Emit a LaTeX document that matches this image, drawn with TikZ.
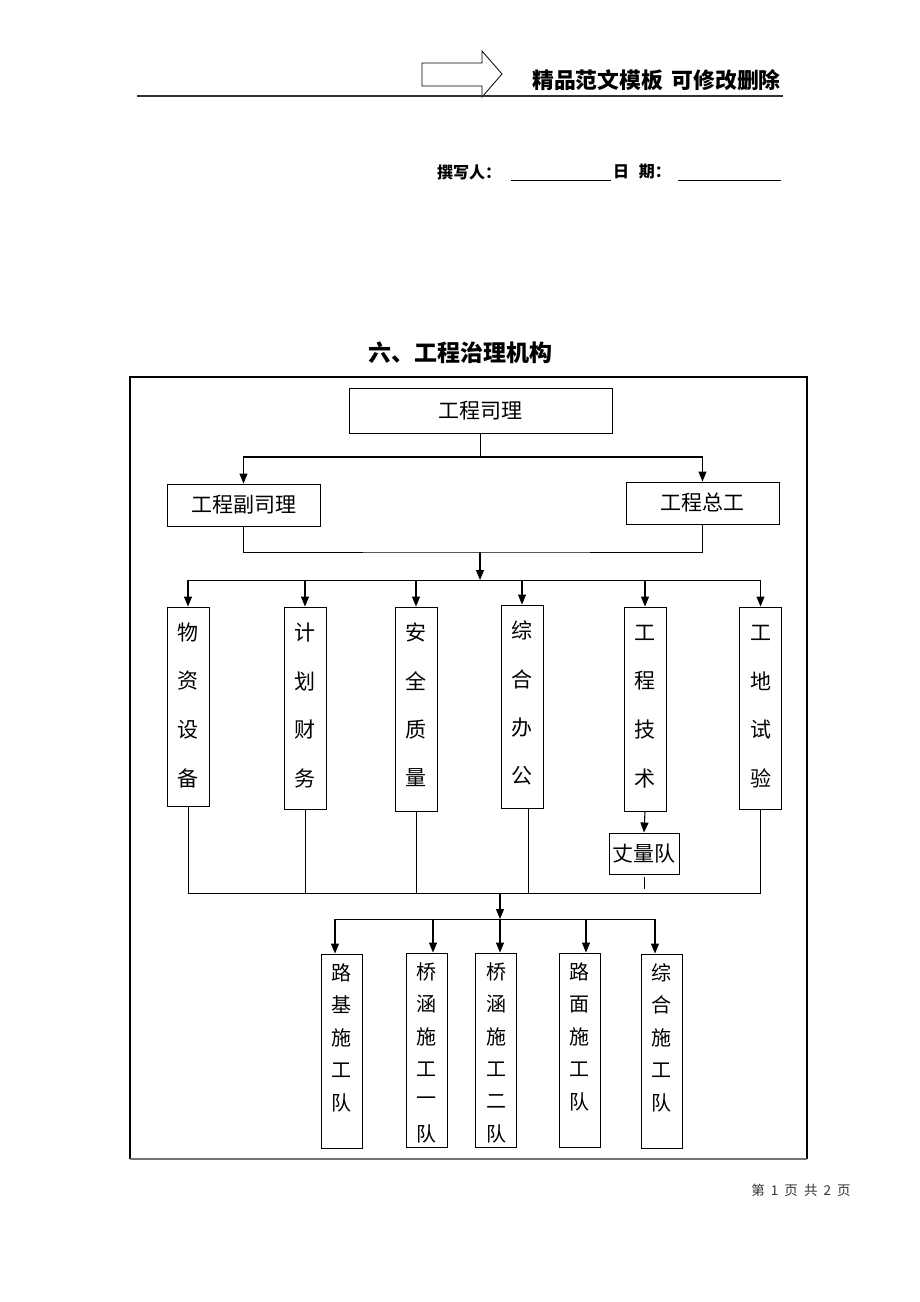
\documentclass[tikz,border=0pt]{standalone}
\usepackage{fontspec}
\newfontfamily\cjk{Noto Sans CJK SC}
\usetikzlibrary{arrows.meta,positioning}

\tikzset{
  box/.style={draw,line width=0.9pt,inner sep=0pt,font=\cjk\fontsize{21}{24}\selectfont},
  vbox/.style={box,minimum width=42pt},
  chr/.style={inner sep=0pt,font=\cjk\fontsize{21}{24}\selectfont},
  arr/.style={-{Triangle[length=10pt,width=8pt]},line width=1.1pt},
  link/.style={line width=1pt},
}

\begin{document}
\begin{tikzpicture}[x=1pt,y=-1pt]
\useasboundingbox (0,0) rectangle (920,1302);
% page head
\draw[line width=0.8pt] (422,63)--(482,63)--(482,51)--(502,74)--(482,97)--(482,86)--(422,86)--cycle;
\draw[line width=1.2pt,black!80] (137,96)--(783,96);
\node[anchor=east,inner sep=0pt,font=\cjk\bfseries\fontsize{21.8}{24}\selectfont] (head) at (781,80) {精品范文模板\hspace{0.4em}可修改删除};
\node[anchor=west,inner sep=0pt,font=\cjk\bfseries\fontsize{16}{18}\selectfont] (author) at (437,172) {撰写人：};
\draw[line width=0.9pt] (511,180)--(611,180);
\node[anchor=west,inner sep=0pt,font=\cjk\bfseries\fontsize{16}{18}\selectfont] (date) at (613,172) {日\hspace{0.6em}期：};
\draw[line width=0.9pt] (678,180)--(781,180);
\node[font=\cjk\bfseries\fontsize{23}{26}\selectfont] (title) at (460,353) {六、工程治理机构};
% frame
\draw[line width=1.8pt] (130,1159)--(130,377)--(807,377)--(807,1159);
\draw[line width=1.3pt,black!55] (130,1159)--(807,1159);

% boxes
\node[box,minimum width=263pt,minimum height=45pt] (boss) at (480.5,410.5) {工程司理};
\node[box,minimum width=153pt,minimum height=42pt] (vice) at (243.5,505) {工程副司理};
\node[box,minimum width=153pt,minimum height=42pt] (chief) at (702.5,503) {工程总工};
\node[vbox,minimum height=199pt] (d1) at (188,706.5) {};
\node[vbox,minimum height=202pt] (d2) at (305,708) {};
\node[vbox,minimum height=204pt] (d3) at (416,709) {};
\node[vbox,minimum height=203pt] (d4) at (522,706.5) {};
\node[vbox,minimum height=204pt] (d5) at (645,709) {};
\node[vbox,minimum height=202pt] (d6) at (760.5,708) {};
\node[box,minimum width=70pt,minimum height=41pt] (survey) at (644,853.5) {丈量队};
\node[vbox,minimum width=41pt,minimum height=194pt] (e1) at (341.5,1051) {};
\node[vbox,minimum width=41pt,minimum height=194pt] (e2) at (426.5,1050) {};
\node[vbox,minimum width=41pt,minimum height=194pt] (e3) at (496,1050) {};
\node[vbox,minimum width=41pt,minimum height=194pt] (e4) at (579.5,1050) {};
\node[vbox,minimum width=41pt,minimum height=194pt] (e5) at (661.5,1051) {};

% upright texts
\foreach \n/\t in {d1/{物,资,设,备},d2/{计,划,财,务},d3/{安,全,质,量},d4/{综,合,办,公},d5/{工,程,技,术},d6/{工,地,试,验}}
  \foreach \c [count=\i] in \t
    \node[chr] (\n-\i) at ([yshift={-26pt-48.5pt*(\i-1)}]\n.north) {\c};
\foreach \n/\t in {e1/{路,基,施,工,队},e2/{桥,涵,施,工,一,队},e3/{桥,涵,施,工,二,队},e4/{路,面,施,工,队},e5/{综,合,施,工,队}}
  \foreach \c [count=\i] in \t
    \node[chr,font=\cjk\fontsize{20}{24}\selectfont] (\n-\i) at ([yshift={-19pt-32.5pt*(\i-1)}]\n.north) {\c};

% connectors
\coordinate (j1) at (480,457);
\coordinate (j2) at (480,552);
\coordinate (j3) at (480,580);
\coordinate (j4) at (500,893);
\coordinate (j5) at (500,919);
\draw[link] (boss.south) -- (boss.south |- j1);
\draw[arr] (j1) -| (vice.north);
\draw[arr] (j1) -| (chief.north);
\draw[link] (vice.south) |- (j2) -| (chief.south);
\draw[arr] (j2) -- (j3);
\draw[link] (d1.north |- j3) -- (d6.north |- j3);
\foreach \n in {d1,d2,d3,d4,d5,d6}
  \draw[arr] (\n.north |- j3) -- (\n.north);
\draw[arr] (d5.south) -- (survey.north);
\coordinate (s1) at ([yshift=-3pt]survey.south);
\coordinate (s2) at (644,889);
\draw[link] (s1) -- (s2);
\coordinate (u4) at (528,893);
\draw[link] (d1.south |- j4) -- (d6.south |- j4);
\foreach \n in {d1,d2,d3,d6}
  \draw[link] (\n.south) -- (\n.south |- j4);
\draw[link] (u4 |- d4.south) -- (u4);
\draw[arr] (j4) -- (j5);
\foreach \x/\n in {335/e1,433/e2,500/e3,586/e4,655/e5}{
  \coordinate (a-\n) at (\x,919);
  \draw[arr] (a-\n) -- (a-\n |- \n.north);
}
\draw[link] (a-e1) -- (a-e5);

% page foot
\node[font=\cjk\fontsize{13.5}{15}\selectfont,text=black!80] (foot) at (801,1190) {第\hspace{0.45em}1\hspace{0.45em}页\hspace{0.45em}共\hspace{0.45em}2\hspace{0.45em}页};
\end{tikzpicture}
\end{document}
